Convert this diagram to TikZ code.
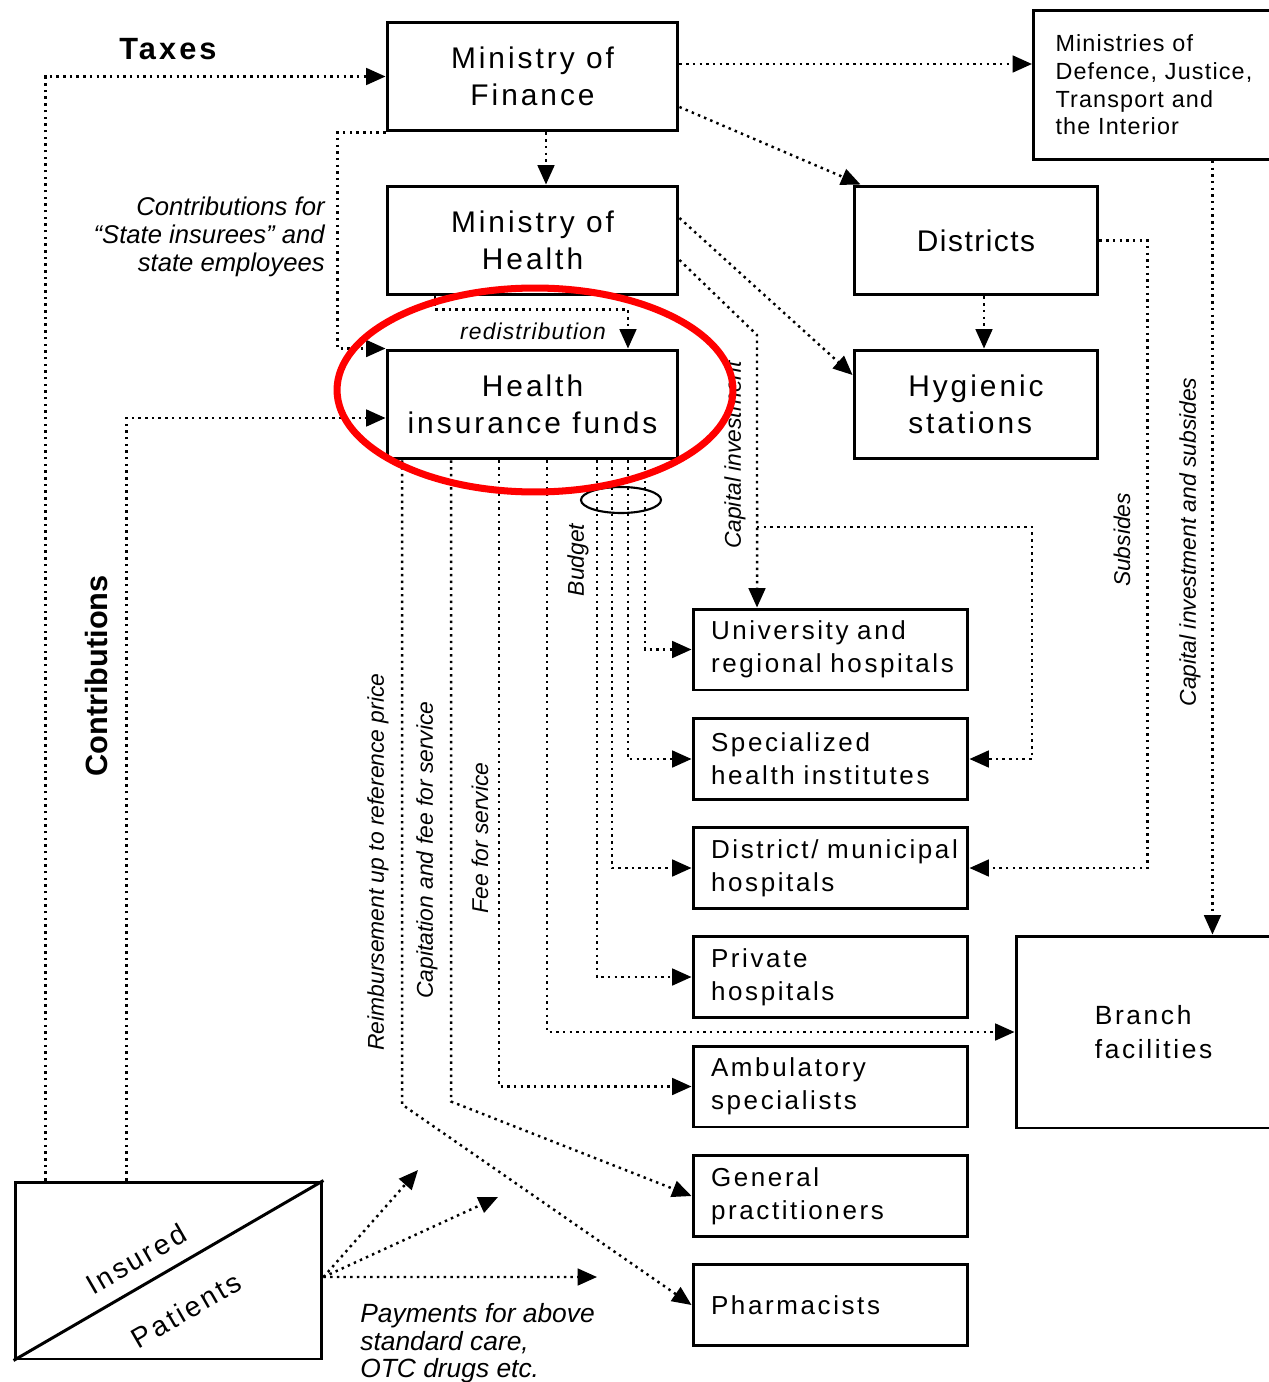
\documentclass[tikz,border=0pt]{standalone}
\usepackage{fontspec}
\setmainfont{Liberation Sans}
\newfontfamily\wideface{Liberation Sans}[LetterSpace=10]
\newfontfamily\midface{Liberation Sans}[LetterSpace=5]
\newcommand\nohyph{\hyphenpenalty=10000\relax}
\usetikzlibrary{arrows.meta}
\definecolor{hfRed}{HTML}{FF0000}

\begin{document}
\begin{tikzpicture}[
    x=0.02cm, y=-0.02cm,
    bigbox/.style={draw, line width=1.7pt, minimum width=5.82cm, minimum height=2.18cm, inner sep=0pt, align=center, font=\wideface\fontsize{17}{21}\selectfont},
    sidebox/.style={bigbox, minimum width=4.88cm, align=left},
    govbox/.style={draw, line width=1.7pt, anchor=north west, minimum width=5.08cm, minimum height=2.98cm, text width=4.2cm, inner xsep=0.44cm, align=left, font=\midface\fontsize{13.3}{15.8}\selectfont},
    carebox/.style={draw, line width=1.7pt, minimum width=5.5cm, minimum height=1.62cm, text width=4.78cm, inner xsep=0.36cm, inner ysep=0pt, align=left, font=\wideface\fontsize{14.8}{19}\selectfont\nohyph},
    flow/.style={line width=1.4pt, dash pattern=on 1.4pt off 2.4pt, -{Triangle[length=11pt, width=9.5pt]}},
    lbl/.style={inner sep=0pt, font=\itshape\fontsize{13}{15}\selectfont},
    vlbl/.style={lbl, rotate=90}
]
    \useasboundingbox (0,0) rectangle (1268,1382);

    % Ministries and funds
    \node[bigbox] (fin) at (532.5,76.5) {Ministry of\\Finance};
    \node[bigbox] (moh) at (532.5,240.5) {Ministry of\\Health};
    \node[bigbox] (hif) at (532.5,404.5) {Health\\insurance funds};
    \node[govbox] (mins) at (1032,9) {Ministries of\\Defence, Justice,\\Transport and\\the Interior};
    \node[sidebox, font=\midface\fontsize{17}{21}\selectfont] (dist) at (976,240.5) {Districts};
    \node[sidebox] (hyg) at (976,404.5) {Hygienic\\stations};

    % Providers
    \node[carebox] (univ) at (830.5,649.5) {University~and\\regional~hospitals};
    \node[carebox] (spec) at (830.5,759) {Specialized\\health~institutes};
    \node[carebox] (muni) at (830.5,868) {District/~municipal\\hospitals};
    \node[carebox] (priv) at (830.5,977) {Private\\hospitals};
    \node[carebox] (amb) at (830.5,1086.5) {Ambulatory\\specialists};
    \node[carebox] (gp) at (830.5,1196) {General\\practitioners};
    \node[carebox] (pharm) at (830.5,1305) {Pharmacists};
    \node[draw, line width=1.7pt, minimum width=5.5cm, minimum height=3.84cm, align=left, font=\wideface\fontsize{15}{19}\selectfont] (branch) at (1153.5,1032) {Branch\\facilities};

    % Insured / patients
    \node[draw, line width=1.7pt, minimum width=6.14cm, minimum height=3.54cm] (ins) at (168.5,1270.5) {};
    \draw[line width=1.7pt] (ins.south west) -- (ins.north east);
    \node[rotate=30, inner sep=0pt, font=\wideface\fontsize{16}{19}\selectfont] (insured) at (136,1259) {Insured};
    \node[rotate=30, inner sep=0pt, font=\wideface\fontsize{16}{19}\selectfont] (patients) at (186,1310) {Patients};

    % Labels
    \node[font=\wideface\bfseries\fontsize{17.5}{20}\selectfont] (taxes) at (168,49) {Taxes};
    \node[rotate=90, font=\bfseries\fontsize{17.5}{20}\selectfont] (contrib) at (97,676) {Contributions};
    \node[lbl, anchor=east, align=right, font=\itshape\fontsize{14.6}{16}\selectfont] (statelbl) at (325,237) {Contributions for\\“State insurees” and\\state employees};
    \node[lbl, font=\midface\itshape\fontsize{13}{15}\selectfont] (redis) at (533,331) {redistribution};
    \node[vlbl] (capinv) at (735,455) {Capital investment};
    \node[vlbl] (budget) at (578,560) {Budget};
    \node[vlbl] (subs) at (1122,540) {Subsides};
    \node[vlbl] (capsubs) at (1190,542) {Capital investment and subsides};
    \node[vlbl] (reimb) at (378,862) {Reimbursement up to reference price};
    \node[vlbl] (capit) at (427,850) {Capitation and fee for service};
    \node[vlbl] (fees) at (480,838) {Fee for service};
    \node[lbl, anchor=north west, align=left, font=\itshape\fontsize{15}{15.7}\selectfont] (paylbl) at (360,1303) {Payments for above\\standard care,\\OTC drugs etc.};

    % Free ends and bends
    \coordinate (capbend) at (757,335);
    \coordinate (capsplit) at (757,527);
    \coordinate (capdrop) at ([xshift=1.04cm]mins.south);
    \coordinate (payout) at ([yshift=-0.13cm]ins.east);
    \coordinate (pay1) at (418,1170);
    \coordinate (pay2) at (498,1197);
    \coordinate (pay3) at (597,1277);

    % Money flows from the state
    \draw[flow] ([xshift=0.64cm]ins.north west) |- (fin.west);
    \draw[flow] ([xshift=2.26cm]ins.north west) |- ([yshift=-0.27cm]hif.west);
    \draw[flow] (fin.south west) -- ++(-48,0) |- (hif.north west);
    \draw[flow] ([xshift=0.27cm]fin.south) -- ([xshift=0.27cm]moh.north);
    \draw[flow] ([yshift=0.25cm]fin.east) -- ([yshift=0.25cm]fin.east -| mins.west);
    \draw[flow] ([yshift=-0.61cm]fin.east) -- ([xshift=0.16cm]dist.north west);
    \draw[flow] ([yshift=0.45cm]moh.east) -- ([yshift=0.59cm]hyg.west);
    \draw[flow] ([yshift=-0.39cm]moh.east) -- (capbend) -- ([xshift=-1.47cm]univ.north);
    \draw[flow] (capsplit) -- (capsplit -| mins.west) |- (spec.east);
    \draw[flow] ([xshift=0.16cm]dist.south) -- ([xshift=0.16cm]hyg.north);
    \draw[flow] (dist.east) -- ++(48,0) |- (muni.east);
    \draw[flow] (capdrop) -- (capdrop |- branch.north);
    \draw[flow] ([xshift=-1.95cm]moh.south) -- ++(0,13) -| ([xshift=1.91cm]hif.north);

    % Payments by the funds
    \draw[flow] ([xshift=2.25cm]hif.south) |- (univ.west);
    \draw[flow] ([xshift=1.91cm]hif.south) |- (spec.west);
    \draw[flow] ([xshift=1.59cm]hif.south) |- (muni.west);
    \draw[flow] ([xshift=1.29cm]hif.south) |- (priv.west);
    \draw[flow] ([xshift=0.29cm]hif.south) |- (branch.west);
    \draw[flow] ([xshift=-0.67cm]hif.south) |- (amb.west);
    \draw[flow] ([xshift=-1.63cm]hif.south) -- ++(0,641) -- (gp.west);
    \draw[flow] ([xshift=-2.61cm]hif.south) -- ++(0,644) -- (pharm.west);
    \draw[line width=1.2pt] (621,500) ellipse [x radius=0.8cm, y radius=0.26cm];

    % Out of pocket
    \draw[flow] (payout) -- (pay1);
    \draw[flow] (payout) -- (pay2);
    \draw[flow] (payout) -- (pay3);

    % Highlight
    \draw[hfRed, line width=4pt] (535,390) ellipse [x radius=3.96cm, y radius=2.04cm];
\end{tikzpicture}
\end{document}
